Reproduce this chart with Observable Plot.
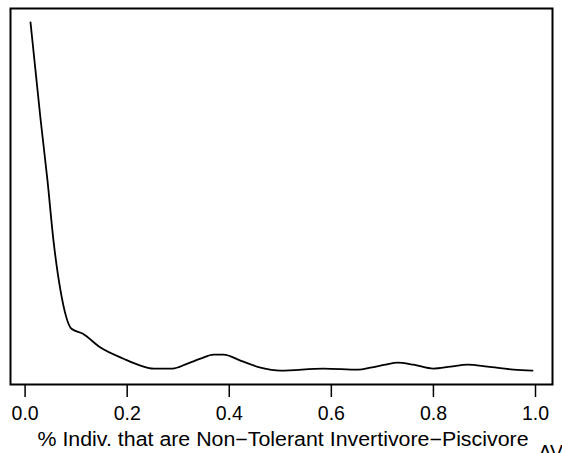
<!DOCTYPE html>
<html>
<head>
<meta charset="utf-8">
<script src="https://cdn.jsdelivr.net/npm/d3@7"></script>
<script src="https://cdn.jsdelivr.net/npm/@observablehq/plot@0.6"></script>
<style>
  html, body { margin: 0; padding: 0; background: #fff; }
  svg { display: block; }
</style>
</head>
<body>
<div id="chart"></div>
<script>
// Density estimate
const xs = [0.0106, 0.0204, 0.0302, 0.0439, 0.0556, 0.0694, 0.0909, 0.1125, 0.1477, 0.1928,
            0.2261, 0.2516, 0.2888, 0.3182, 0.3437, 0.3691, 0.3887, 0.4220, 0.4612, 0.5004,
            0.5846, 0.6532, 0.6767, 0.7061, 0.7296, 0.7610, 0.8001, 0.8335, 0.8668, 0.9060,
            0.9569, 0.9942];
const dens = [9.40, 8.10, 6.80, 5.13, 3.51, 2.16, 1.13, 1.00, 0.62, 0.32,
              0.135, 0.054, 0.054, 0.19, 0.32, 0.43, 0.43, 0.27, 0.08, 0.0,
              0.054, 0.027, 0.08, 0.16, 0.216, 0.16, 0.054, 0.108, 0.16, 0.108,
              0.027, 0.0];
const xTicks = [0, 0.2, 0.4, 0.6, 0.8, 1.0];
const xLabel = "% Indiv. that are Non\u2212Tolerant Invertivore\u2212Piscivore";
const cornerLabel = "AV-1";

const data = xs.map((x, i) => ({x, y: dens[i]}));

const chart = Plot.plot({
  width: 562,
  height: 453,
  marginTop: 8,
  marginLeft: 10,
  marginRight: 10,
  marginBottom: 69,
  style: {fontFamily: "'Liberation Sans', Arial, sans-serif", fontSize: "19.5px", background: "#fff", color: "#000"},
  x: {domain: [-0.0286, 1.0333], axis: null},
  y: {domain: [-0.376, 9.776], axis: null},
  marks: [
    Plot.axisX({
      ticks: xTicks,
      tickFormat: d3.format(".1f"),
      tickSize: 13,
      tickPadding: 9,
      fontSize: 19.5,
      strokeWidth: 1.5,
      label: null
    }),
    Plot.line(data, {x: "x", y: "y", stroke: "black", strokeWidth: 1.8, curve: "monotone-x"}),
    Plot.frame({stroke: "black", strokeWidth: 2}),
    Plot.text([xLabel], {frameAnchor: "bottom", dx: 1.5, dy: 61, lineAnchor: "bottom", fontSize: 19.5, fill: "black"}),
    Plot.text([cornerLabel], {frameAnchor: "bottom-right", dx: -14, dy: 74.5, lineAnchor: "bottom", textAnchor: "start", fontSize: 19.5, fill: "black"})
  ]
});
// stretch the axis title to the width seen in the reference
for (const t of chart.querySelectorAll("text")) {
  if (t.textContent === xLabel) {
    t.setAttribute("textLength", 491);
    t.setAttribute("lengthAdjust", "spacingAndGlyphs");
  }
}
document.getElementById("chart").appendChild(chart);
</script>
</body>
</html>
